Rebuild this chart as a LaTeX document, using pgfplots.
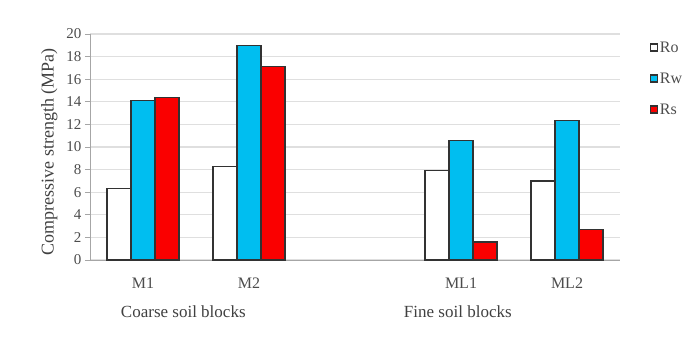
\documentclass[border=0pt]{standalone}
\usepackage{fontspec}
\setmainfont{Liberation Serif}
\usepackage{pgfplots}
\pgfplotsset{compat=1.18}
\definecolor{rw}{RGB}{0,190,240}
\definecolor{rs}{RGB}{250,0,0}
\definecolor{edge}{RGB}{50,50,50}
\begin{document}
\begin{tikzpicture}[x=1pt,y=1pt]
\path[use as bounding box] (0,0) rectangle (696,340);
\begin{axis}[
  at={(90pt,80pt)}, anchor=south west,
  scale only axis, width=530pt, height=226pt,
  ybar=0pt, bar width=24pt,
  xmin=-0.5, xmax=4.5, ymin=0, ymax=20,
  xtick={0,1,3,4}, xticklabels={M1,M2,ML1,ML2},
  ytick={0,2,...,20},
  axis x line*=bottom, axis y line*=left,
  axis line style={gray!70, line width=0.8pt},
  x tick style={draw=none},
  y tick style={gray!70, line width=0.8pt},
  major tick length=5pt,
  tick align=outside,
  ymajorgrids, grid style={gray!25, line width=1.2pt},
  yticklabel style={font=\fontsize{15}{17}\selectfont, text=black!70},
  xticklabel style={font=\fontsize{16}{18}\selectfont, text=black!70, yshift=-9pt},
  /pgf/number format/assume math mode=true,
  ylabel={Compressive strength (MPa)},
  ylabel style={font=\fontsize{18}{20}\selectfont, text=black!75, yshift=2pt, xshift=-5pt},
  legend style={at={(1.05,0.985)}, anchor=north west, draw=none, fill=none,
    font=\fontsize{16}{18}\selectfont, text=black!70, row sep=15pt,
    legend cell align=left},
  legend image code/.code={\draw[#1, line width=1.2pt] (0pt,-3.5pt) rectangle (7pt,3.5pt);},
  clip=false,
]
\addplot[draw=edge, fill=white, line width=1.3pt] coordinates {(0,6.3) (1,8.3) (3,7.9) (4,7.0)};
\addplot[draw=edge, fill=rw, line width=1.3pt] coordinates {(0,14.1) (1,19.0) (3,10.6) (4,12.35)};
\addplot[draw=edge, fill=rs, line width=1.3pt] coordinates {(0,14.4) (1,17.1) (3,1.6) (4,2.7)};
\legend{Ro,Rw,Rs}
\node[font=\fontsize{17}{19}\selectfont, text=black!75] at (axis cs:0.38,0) [yshift=-52pt] {Coarse soil blocks};
\node[font=\fontsize{17}{19}\selectfont, text=black!75] at (axis cs:2.97,0) [yshift=-52pt] {Fine soil blocks};
\end{axis}
\end{tikzpicture}
\end{document}
